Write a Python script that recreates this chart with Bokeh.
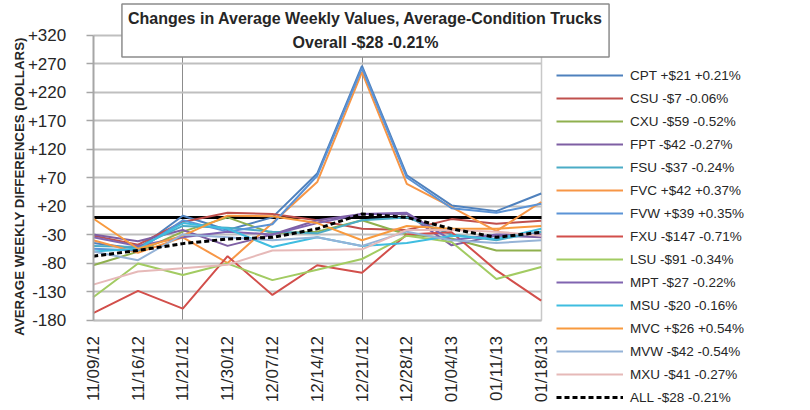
import math
from bokeh.plotting import figure
from bokeh.models import (ColumnDataSource, FixedTicker, Range1d, Legend,
                          LegendItem, Label, Grid)
from bokeh.embed import file_html
from bokeh.resources import INLINE

# ---------------- data ----------------
dates = ["11/09/12", "11/16/12", "11/21/12", "11/30/12", "12/07/12", "12/14/12",
         "12/21/12", "12/28/12", "01/04/13", "01/11/13", "01/18/13"]
y_ticks = [-180, -130, -80, -30, 20, 70, 120, 170, 220, 270, 320]

cpt = [-45, -55, 3, -22, 0, 77, 266, 74, 21, 11, 42]
csu = [-32, -48, -8, 8, 6, -5, -20, -22, -3, -11, -6]
cxu = [-84, -60, -25, 0, -28, -25, -5, -30, -37, -58, -58]
fpt = [-30, -42, -22, -50, -30, -5, 6, 6, -49, -32, -35]
fsu = [-50, -52, -15, -18, -25, -28, -5, 0, -30, -40, -25]
fvc = [-40, -62, -35, -80, -10, 62, 255, 59, 18, -24, 27]
fvw = [-55, -58, -5, -25, -12, 73, 262, 70, 16, 8, 24]
fxu = [-168, -129, -160, -68, -136, -84, -97, -30, -26, -93, -146]
lsu = [-140, -81, -101, -81, -110, -92, -73, -32, -43, -108, -87]
mpt = [-35, -50, -35, -25, -30, -10, 6, 8, -40, -30, -30]
msu = [-60, -55, -10, -20, -52, -35, -50, -45, -32, -38, -20]
mvc = [-2, -55, -32, 3, 2, -10, -40, -15, -20, -20, -15]
mvw = [-60, -75, -30, -35, -40, -35, -50, -25, -40, -45, -40]
mxu = [-118, -95, -89, -83, -58, -57, -56, -22, -22, -25, -32]
all_trucks = [-68, -58, -46, -38, -35, -20, 6, 0, -20, -35, -26]

legend_labels = ["CPT +$21 +0.21%", "CSU -$7 -0.06%", "CXU -$59 -0.52%",
                 "FPT -$42 -0.27%", "FSU -$37 -0.24%", "FVC +$42 +0.37%",
                 "FVW +$39 +0.35%", "FXU -$147 -0.71%", "LSU -$91 -0.34%",
                 "MPT -$27 -0.22%", "MSU -$20 -0.16%", "MVC +$26 +0.54%",
                 "MVW -$42 -0.54%", "MXU -$41 -0.27%", "ALL -$28 -0.21%"]

title_line1 = "Changes in Average Weekly Values, Average-Condition Trucks"
title_line2 = "Overall -$28 -0.21%"
y_title = "AVERAGE WEEKLY DIFFERENCES (DOLLARS)"

# ---------------- styles / layout ----------------
FONT = "Liberation Sans"
TXT = "#262626"
colors = ["#4F81BD", "#C0504D", "#8FB04E", "#7E5FA3", "#4BACC6", "#F79646",
          "#5B93D6", "#D24F4B", "#A2CB62", "#8064B0", "#3FBDE0", "#F89A3E",
          "#95B3D7", "#E6B9B8", "#000000"]
all_series = [cpt, csu, cxu, fpt, fsu, fvc, fvw, fxu, lsu, mpt, msu, mvc,
              mvw, mxu, all_trucks]

W, H = 806, 406
LEFT = 92.7               # x px of first category
PX_X = 44.8               # px per category step
PLOT_TOP = 34.5           # y px of top tick
PLOT_BOTTOM = 319.5       # y px of bottom tick
px_y = (PLOT_BOTTOM - PLOT_TOP) / (y_ticks[-1] - y_ticks[0])
x_start = -LEFT / PX_X
x_end = (W - LEFT) / PX_X
y_start = y_ticks[0] - (H - PLOT_BOTTOM) / px_y
y_end = y_ticks[-1] + PLOT_TOP / px_y

xs = list(range(len(dates)))
x_last = len(dates) - 1

p = figure(width=W, height=H, output_backend="svg", toolbar_location=None,
           x_range=Range1d(x_start, x_end), y_range=Range1d(y_start, y_end),
           min_border_left=0, min_border_right=0, min_border_top=0,
           min_border_bottom=0)
p.background_fill_color = "white"
p.border_fill_color = "white"
p.outline_line_color = None

# x axis (drawn at the bottom tick value)
p.xaxis.fixed_location = y_ticks[0]
p.xaxis.bounds = (0, x_last)
p.xaxis.ticker = FixedTicker(ticks=xs)
p.xaxis.major_label_overrides = {i: d for i, d in enumerate(dates)}
p.xaxis.major_label_orientation = math.pi / 2
p.xaxis.major_label_text_font = FONT
p.xaxis.major_label_text_font_size = "17px"
p.xaxis.major_label_text_color = TXT
p.xaxis.major_label_standoff = 16
p.xaxis.major_tick_out = 0
p.xaxis.major_tick_in = 0
p.xaxis.minor_tick_line_color = None
p.xaxis.axis_line_color = "#bfbfbf"
p.xaxis.axis_line_width = 1.5

# y axis (drawn at the first category)
p.yaxis.fixed_location = 0
p.yaxis.bounds = (y_ticks[0], y_ticks[-1])
p.yaxis.ticker = FixedTicker(ticks=y_ticks)
p.yaxis.major_label_overrides = {t: (f"+{t}" if t > 0 else str(t)) for t in y_ticks}
p.yaxis.major_label_text_font = FONT
p.yaxis.major_label_text_font_size = "17px"
p.yaxis.major_label_text_color = TXT
p.yaxis.major_label_standoff = 20
p.yaxis.major_tick_out = 7
p.yaxis.major_tick_in = 0
p.yaxis.major_tick_line_color = "#a6a6a6"
p.yaxis.major_tick_line_width = 1.5
p.yaxis.minor_tick_line_color = None
p.yaxis.axis_line_color = "#a6a6a6"
p.yaxis.axis_line_width = 2

p.add_layout(Label(x=19, y=H - 186, x_units="screen", y_units="screen",
                   text=y_title, angle=math.pi / 2, text_align="center",
                   text_baseline="middle", text_font=FONT,
                   text_font_size="13.3px", text_font_style="bold",
                   text_color=TXT))

HAS_CROSS = "cross_bounds" in Grid.properties()

def limit(grid, bounds, cross):
    grid.bounds = bounds
    if HAS_CROSS:
        grid.cross_bounds = cross

# grids
p.ygrid.ticker = FixedTicker(ticks=y_ticks)
limit(p.ygrid, (y_ticks[0], y_ticks[-1]), (0, x_last))
p.ygrid.grid_line_color = "#bfbfbf"
p.ygrid.grid_line_width = 2
p.xgrid.ticker = FixedTicker(ticks=[2, 6])
limit(p.xgrid, (0, x_last), (y_ticks[0], y_ticks[-1]))
p.xgrid.grid_line_color = "#8c8c8c"
p.xgrid.grid_line_width = 1
# right border of plot area
g_right = Grid(dimension=0, ticker=FixedTicker(ticks=[x_last]),
               grid_line_color="#c8c8c8", grid_line_width=1.5)
limit(g_right, (0, x_last), (y_ticks[0], y_ticks[-1]))
p.add_layout(g_right)
# zero line
g_zero = Grid(dimension=1, ticker=FixedTicker(ticks=[0]),
              grid_line_color="black", grid_line_width=3)
limit(g_zero, (y_ticks[0], y_ticks[-1]), (0, x_last))
p.add_layout(g_zero)

# series
items = []
for label, vals, col in zip(legend_labels, all_series, colors):
    src = ColumnDataSource(dict(x=xs, y=vals))
    if label.startswith("ALL"):
        r = p.line("x", "y", source=src, line_color=col, line_width=3,
                   line_dash="5 3")
    else:
        r = p.line("x", "y", source=src, line_color=col, line_width=2)
    items.append(LegendItem(label=label, renderers=[r]))

LEG_H = 343
legend = Legend(items=items, location=(556, H - 64 - LEG_H), margin=0,
                padding=0, spacing=3, glyph_width=67, glyph_height=20,
                label_height=20, label_standoff=7, border_line_alpha=0,
                background_fill_alpha=0, label_text_font=FONT,
                label_text_font_size="13.5px", label_text_color=TXT)
p.add_layout(legend)

title = Label(x=365, y=H - 30, x_units="screen", y_units="screen",
              text=title_line1 + "\n" + title_line2, anchor="center",
              text_align="center", text_baseline="middle",
              text_font=FONT, text_font_size="16px", text_font_style="bold",
              text_color=TXT, text_line_height=1.42, padding=6,
              background_fill_color="white", border_line_color="#8c8c8c",
              border_line_width=1.5)
p.add_layout(title)

open("out.html", "w").write(file_html(p, INLINE))
